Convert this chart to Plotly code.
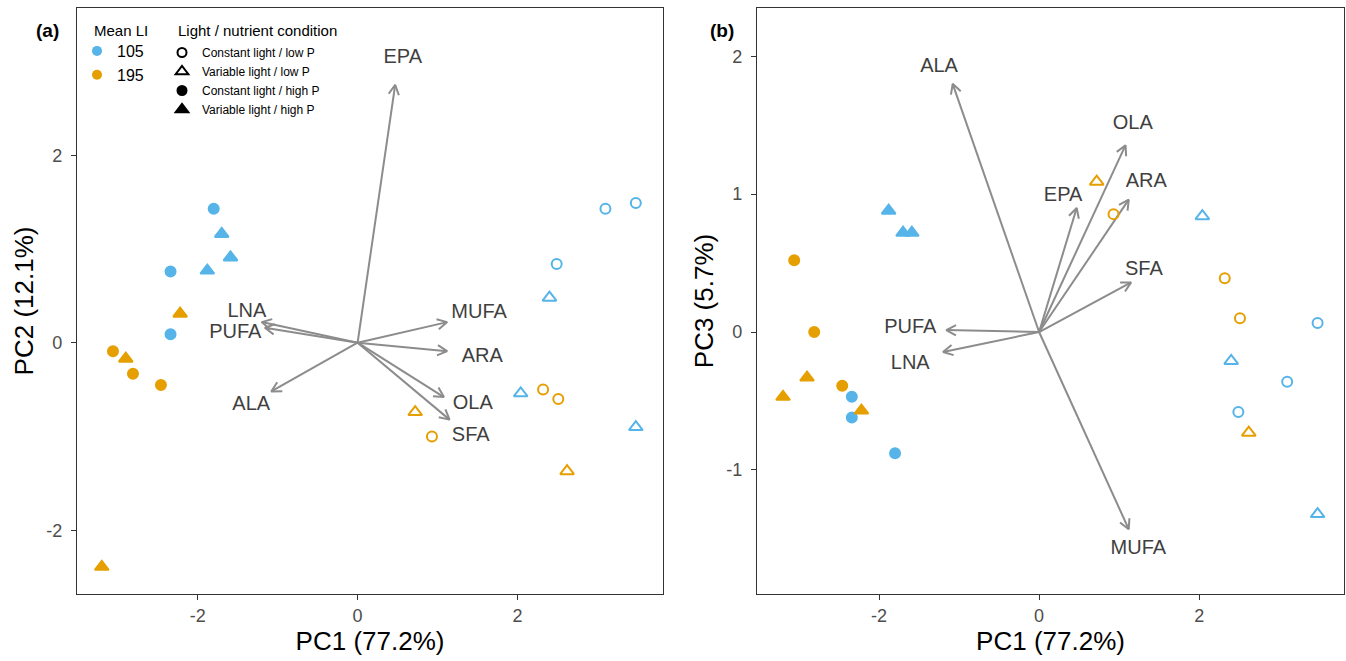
import math
import plotly.graph_objects as go

# ---------------- data ----------------
mean_li = ["105"] * 12 + ["195"] * 11
condition = (
    ["Constant light / low P"] * 3 + ["Variable light / low P"] * 3
    + ["Constant light / high P"] * 3 + ["Variable light / high P"] * 3
    + ["Constant light / low P"] * 3 + ["Variable light / low P"] * 2
    + ["Constant light / high P"] * 3 + ["Variable light / high P"] * 3
)
pc1 = [3.10, 3.48, 2.49, 2.40, 2.04, 3.48, -1.80, -2.34, -2.34, -1.88, -1.70, -1.59,
       2.32, 2.51, 0.93, 0.72, 2.62, -3.06, -2.81, -2.46, -2.90, -2.22, -3.20]
pc2 = [1.43, 1.49, 0.84, 0.48, -0.54, -0.90, 1.43, 0.76, 0.09, 0.77, 1.16, 0.91,
       -0.50, -0.60, -1.00, -0.74, -1.37, -0.09, -0.33, -0.45, -0.17, 0.31, -2.39]
pc3 = [-0.36, 0.065, -0.58, -0.21, 0.84, -1.32, -0.88, -0.47, -0.62, 0.88, 0.72, 0.72,
       0.39, 0.10, 0.855, 1.09, -0.73, 0.52, 0.00, -0.39, -0.33, -0.57, -0.47]

fa_vars = ["EPA", "ALA", "LNA", "PUFA", "MUFA", "ARA", "OLA", "SFA"]
load1 = [0.47, -1.08, -1.20, -1.16, 1.12, 1.12, 1.08, 1.15]
load2 = [2.75, -0.52, 0.22, 0.16, 0.22, -0.09, -0.58, -0.82]
load3 = [0.90, 1.80, -0.145, 0.014, -1.43, 0.96, 1.355, 0.36]

# label anchor points (data units) for each loading
lab_a_x = [0.565, -1.33, -1.385, -1.53, 1.52, 1.56, 1.44, 1.415]
lab_a_y = [3.04, -0.66, 0.33, 0.10, 0.32, -0.15, -0.65, -1.00]
lab_b_x = [0.30, -1.25, -1.61, -1.61, 1.24, 1.34, 1.17, 1.31]
lab_b_y = [0.99, 1.92, -0.23, 0.03, -1.57, 1.09, 1.51, 0.45]

li_levels = ["105", "195"]
cond_levels = ["Constant light / low P", "Variable light / low P",
               "Constant light / high P", "Variable light / high P"]

tick_x_vals = [-2, 0, 2]
tick_x_text = ["-2", "0", "2"]
tick_ya_vals = [-2, 0, 2]
tick_ya_text = ["-2", "0", "2"]
tick_yb_vals = [-1, 0, 1, 2]
tick_yb_text = ["-1", "0", "1", "2"]

# ---------------- styling ----------------
W, H = 1346, 661
colors = {"105": "#56B4E9", "195": "#E69F00"}
symbols = {"Constant light / low P": "circle-open",
           "Variable light / low P": "triangle-up-open",
           "Constant light / high P": "circle",
           "Variable light / high P": "triangle-up"}
sizes = {"circle-open": 10, "triangle-up-open": 12, "circle": 10, "triangle-up": 12}
FONT = "Liberation Sans, Arial, Helvetica, sans-serif"
NARROW = "Liberation Sans Narrow, Arial Narrow, Liberation Sans, sans-serif"
ARROW_COL = "#8C8C8C"
LABEL_COL = "#3F3F3F"

dom_y = [(H - 594) / H, (H - 8) / H]
panels = {
    "a": dict(xdom=[77 / W, 663 / W], xr=[-3.51, 3.82], yr=[-2.68, 3.57], xa="x", ya="y",
              ys=pc2, ld=load2, lx=lab_a_x, ly=lab_a_y),
    "b": dict(xdom=[757 / W, 1344 / W], xr=[-3.525, 3.81], yr=[-1.90, 2.35], xa="x2", ya="y2",
              ys=pc3, ld=load3, lx=lab_b_x, ly=lab_b_y),
}

fig = go.Figure()

for key, p in panels.items():
    # pixel scale for arrowheads
    pxu_x = (p["xdom"][1] - p["xdom"][0]) * W / (p["xr"][1] - p["xr"][0])
    pxu_y = (dom_y[1] - dom_y[0]) * H / (p["yr"][1] - p["yr"][0])
    ax_x, ax_y = [], []
    head_len, ang = 11.0, math.radians(28)
    for lx1, ly1 in zip(load1, p["ld"]):
        ax_x += [0, lx1, None]
        ax_y += [0, ly1, None]
        dx, dy = lx1 * pxu_x, ly1 * pxu_y
        n = math.hypot(dx, dy)
        ux, uy = dx / n, dy / n
        wings = []
        for s in (1, -1):
            c, si = math.cos(s * ang), math.sin(s * ang)
            rx, ry = ux * c - uy * si, ux * si + uy * c
            wings.append((lx1 - head_len * rx / pxu_x, ly1 - head_len * ry / pxu_y))
        ax_x += [wings[0][0], lx1, wings[1][0], None]
        ax_y += [wings[0][1], ly1, wings[1][1], None]
    fig.add_trace(go.Scatter(x=ax_x, y=ax_y, mode="lines", xaxis=p["xa"], yaxis=p["ya"],
                             line=dict(color=ARROW_COL, width=2), showlegend=False,
                             hoverinfo="skip"))
    fig.add_trace(go.Scatter(x=p["lx"], y=p["ly"], mode="text", text=fa_vars,
                             xaxis=p["xa"], yaxis=p["ya"],
                             textfont=dict(size=20, color=LABEL_COL, family=FONT),
                             showlegend=False, hoverinfo="skip"))
    for li in li_levels:
        for cd in cond_levels:
            idx = [i for i in range(len(pc1)) if mean_li[i] == li and condition[i] == cd]
            if not idx:
                continue
            sym = symbols[cd]
            fig.add_trace(go.Scatter(
                x=[pc1[i] for i in idx], y=[p["ys"][i] for i in idx], mode="markers",
                xaxis=p["xa"], yaxis=p["ya"], showlegend=False,
                marker=dict(symbol=sym, size=sizes[sym], color=colors[li],
                            line=dict(width=2, color=colors[li]))))

# legend entries
for li in li_levels:
    fig.add_trace(go.Scatter(x=[None], y=[None], mode="markers", name=li, legend="legend",
                             marker=dict(symbol="circle", size=10, color=colors[li])))
for cd in cond_levels:
    sym = symbols[cd]
    fig.add_trace(go.Scatter(x=[None], y=[None], mode="markers", name=cd, legend="legend2",
                             marker=dict(symbol=sym, size=sizes[sym] - 1, color="black",
                                         line=dict(width=2, color="black"))))

axis_common = dict(showgrid=False, zeroline=False, showline=True, mirror=True,
                   linecolor="#333333", linewidth=1.4, ticks="outside", ticklen=5,
                   tickwidth=1.4, tickcolor="#333333",
                   tickfont=dict(size=18, color="#4D4D4D", family=FONT))
title_font = dict(size=26, color="black", family=FONT)

fig.update_layout(
    width=W, height=H, margin=dict(l=0, r=0, t=0, b=0),
    paper_bgcolor="white", plot_bgcolor="white", font=dict(family=FONT),
    xaxis=dict(domain=panels["a"]["xdom"], range=panels["a"]["xr"],
               tickvals=tick_x_vals, ticktext=tick_x_text,
               title=dict(text="PC1 (77.2%)", font=title_font, standoff=7), anchor="y",
               **axis_common),
    yaxis=dict(domain=dom_y, range=panels["a"]["yr"],
               tickvals=tick_ya_vals, ticktext=tick_ya_text, ticklabelstandoff=5,
               title=dict(text="PC2 (12.1%)", font=title_font, standoff=5), anchor="x",
               **axis_common),
    xaxis2=dict(domain=panels["b"]["xdom"], range=panels["b"]["xr"],
                tickvals=tick_x_vals, ticktext=tick_x_text,
                title=dict(text="PC1 (77.2%)", font=title_font, standoff=7), anchor="y2",
                **axis_common),
    yaxis2=dict(domain=dom_y, range=panels["b"]["yr"],
                tickvals=tick_yb_vals, ticktext=tick_yb_text, ticklabelstandoff=5,
                title=dict(text="PC3 (5.7%)", font=title_font, standoff=5), anchor="x2",
                **axis_common),
    legend=dict(x=77 / W, y=1 - 34 / H, xanchor="left", yanchor="top",
                bgcolor="rgba(0,0,0,0)", itemwidth=30, tracegroupgap=0,
                font=dict(size=16, color="black", family=FONT)),
    legend2=dict(x=162 / W, y=1 - 38 / H, xanchor="left", yanchor="top",
                 bgcolor="rgba(0,0,0,0)", itemwidth=30, tracegroupgap=0,
                 font=dict(size=12, color="black", family=NARROW)),
    annotations=[
        dict(text="<b>(a)</b>", x=47 / W, y=1 - 30 / H, xref="paper", yref="paper",
             xanchor="center", yanchor="middle",
             showarrow=False, font=dict(size=19, color="black", family=FONT)),
        dict(text="<b>(b)</b>", x=722 / W, y=1 - 30 / H, xref="paper", yref="paper",
             xanchor="center", yanchor="middle",
             showarrow=False, font=dict(size=19, color="black", family=FONT)),
        dict(text="Mean LI", x=92 / W, y=1 - 30 / H, xref="paper", yref="paper",
             xanchor="left", yanchor="middle",
             showarrow=False, font=dict(size=15, color="black", family=FONT)),
        dict(text="Light / nutrient condition", x=176 / W, y=1 - 30 / H, xref="paper",
             yref="paper", xanchor="left", yanchor="middle",
             showarrow=False, font=dict(size=15, color="black", family=FONT)),
    ],
)

fig.write_html("out.html")
